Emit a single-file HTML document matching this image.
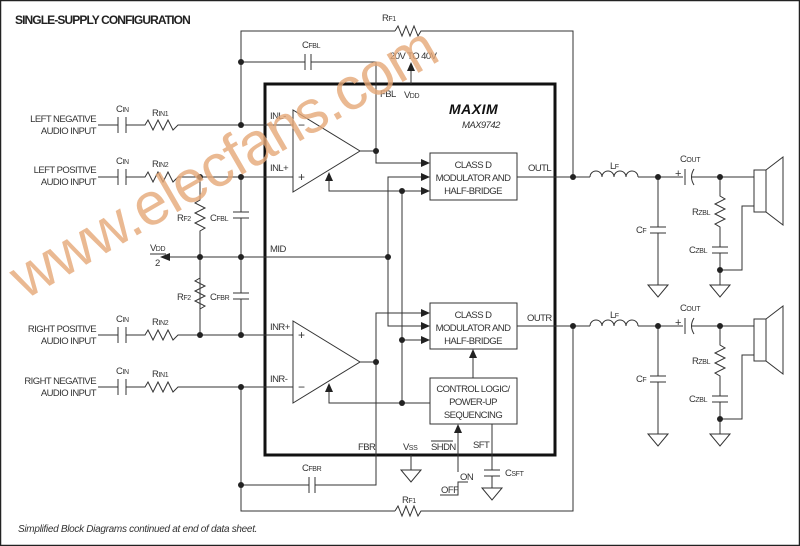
<!DOCTYPE html>
<html><head><meta charset="utf-8"><style>
html,body{margin:0;padding:0;background:#fff}
svg{display:block}
text{font-family:"Liberation Sans Narrow","Liberation Sans",sans-serif;fill:#333;font-size:9.5px;letter-spacing:-0.55px}
.s{font-size:7px;letter-spacing:-0.3px}
</style></head><body>
<svg width="800" height="546" viewBox="0 0 800 546" xmlns="http://www.w3.org/2000/svg">
<rect x="0.5" y="0.5" width="799" height="545" fill="#fff" stroke="#222" stroke-width="1.5"/>
<text x="15" y="24" style="font-size:12px;font-weight:bold;fill:#222;letter-spacing:-0.9px">SINGLE-SUPPLY CONFIGURATION</text>
<text x="18" y="532" style="font-size:10px;font-style:italic;font-family:'Liberation Sans',sans-serif;letter-spacing:-0.3px">Simplified Block Diagrams continued at end of data sheet.</text>

<g fill="none" stroke="#333" stroke-width="1">
<rect x="265" y="84" width="290" height="371" stroke-width="3" stroke="#111"/>
<polyline points="241,125 241,31 395,31"/>
<polyline points="395,31 398,26 402,36 406,26 410,36 414,26 418,36 421,31 573,31 573,177"/>
<polyline points="241,62 305,62"/><line x1="305" y1="54" x2="305" y2="70"/><line x1="311" y1="54" x2="311" y2="70"/>
<polyline points="311,62 376,62 376,163 426,163"/>
<line x1="411" y1="84" x2="411" y2="66"/>
<line x1="98" y1="125" x2="118" y2="125"/><line x1="118" y1="117" x2="118" y2="133"/><line x1="126" y1="117" x2="126" y2="133"/>
<polyline points="126,125 145,125 148,120 153,130 158,120 163,130 168,120 173,130 178,125 293,125"/>
<line x1="98" y1="177" x2="118" y2="177"/><line x1="118" y1="169" x2="118" y2="185"/><line x1="126" y1="169" x2="126" y2="185"/>
<polyline points="126,177 145,177 148,172 153,182 158,172 163,182 168,172 173,182 178,177 293,177"/>
<line x1="98" y1="335" x2="118" y2="335"/><line x1="118" y1="327" x2="118" y2="343"/><line x1="126" y1="327" x2="126" y2="343"/>
<polyline points="126,335 145,335 148,330 153,340 158,330 163,340 168,330 173,340 178,335 293,335"/>
<line x1="98" y1="387" x2="118" y2="387"/><line x1="118" y1="379" x2="118" y2="395"/><line x1="126" y1="379" x2="126" y2="395"/>
<polyline points="126,387 145,387 148,382 153,392 158,382 163,392 168,382 173,392 178,387 293,387"/>
<polyline points="200,177 200,200 195,203 205,208 195,213 205,218 195,223 205,228 200,231 200,335"/>
<polyline points="200,257 200,278 195,281 205,286 195,291 205,296 195,301 205,306 200,309"/>
<polyline points="241,177 241,212"/><line x1="233" y1="212" x2="249" y2="212"/><line x1="233" y1="218" x2="249" y2="218"/><polyline points="241,218 241,293"/>
<line x1="233" y1="293" x2="249" y2="293"/><line x1="233" y1="299" x2="249" y2="299"/><polyline points="241,299 241,335"/>
<polyline points="168,257 388,257"/>
<polyline points="241,387 241,511 395,511"/>
<polyline points="395,511 398,506 402,516 406,506 410,516 414,506 418,516 421,511 573,511 573,326"/>
<polyline points="241,485 309,485"/><line x1="309" y1="477" x2="309" y2="493"/><line x1="315" y1="477" x2="315" y2="493"/>
<polyline points="315,485 376,485 376,313 426,313"/>
<polygon points="293,110 293,192 360,151"/>
<polygon points="293,321 293,403 360,362"/>
<polyline points="360,151 376,151"/>
<polyline points="360,362 376,362"/>
<polyline points="426,177 388,177 388,326 426,326"/>
<polyline points="426,191 329,191 329,176"/>
<polyline points="426,340 402,340"/>
<polyline points="402,191 402,403 430,403"/>
<polyline points="402,403 329,403 329,388"/>
<rect x="430" y="153" width="87" height="47"/>
<rect x="430" y="303" width="87" height="46"/>
<rect x="430" y="378" width="87" height="46"/>
<line x1="473" y1="378" x2="473" y2="355"/>
<line x1="458" y1="472" x2="458" y2="430"/>
<line x1="492" y1="424" x2="492" y2="470"/>
<line x1="484" y1="470" x2="500" y2="470"/><line x1="484" y1="476" x2="500" y2="476"/><line x1="492" y1="476" x2="492" y2="488"/>
<polygon points="482,488 502,488 492,500"/>
<line x1="411" y1="455" x2="411" y2="470"/>
<polygon points="401,470 421,470 411,482"/>
<polyline points="468,482 458,482 458,495 440,495"/>
<g id="outL">
<polyline points="517,177 590,177"/>
<path d="M590,177 a6,6 0 0 1 12,0 a6,6 0 0 1 12,0 a6,6 0 0 1 12,0 a6,6 0 0 1 12,0"/>
<polyline points="638,177 683,177"/>
<line x1="685" y1="169" x2="685" y2="185"/><path d="M694,169 q-5,8 0,16"/>
<polyline points="691,177 754,177"/>
<polyline points="658,177 658,227"/><line x1="650" y1="227" x2="666" y2="227"/><line x1="650" y1="233" x2="666" y2="233"/><polyline points="658,233 658,285"/>
<polygon points="648,285 668,285 658,297"/>
<polyline points="720,177 720,196 725,199 715,204 725,209 715,214 725,219 715,224 720,227 720,247"/>
<line x1="712" y1="247" x2="728" y2="247"/><line x1="712" y1="253" x2="728" y2="253"/>
<polyline points="720,253 720,285"/><polygon points="710,285 730,285 720,297"/>
<polyline points="720,270 742,270 742,206 754,206"/>
<rect x="754" y="170" width="12" height="42"/>
<polygon points="766,170 783,157 783,225 766,212"/>
</g>
<use href="#outL" transform="translate(0,149)"/>
</g>
<g fill="#222">
<polygon points="430,163 421,159 421,167"/><polygon points="430,177 421,173 421,181"/><polygon points="430,191 421,187 421,195"/>
<polygon points="430,313 421,309 421,317"/><polygon points="430,326 421,322 421,330"/><polygon points="430,340 421,336 421,344"/>
<polygon points="329,172 325,181 333,181"/><polygon points="329,383 325,392 333,392"/>
<polygon points="473,349 469,358 477,358"/><polygon points="458,424 454,433 462,433"/>
<polygon points="411,62 407,71 415,71"/>
<polygon points="160,257 170,253 170,261"/>
<circle cx="241" cy="62" r="3"/><circle cx="241" cy="125" r="3"/><circle cx="200" cy="177" r="3"/><circle cx="241" cy="177" r="3"/>
<circle cx="200" cy="257" r="3"/><circle cx="241" cy="257" r="3"/><circle cx="200" cy="335" r="3"/><circle cx="241" cy="335" r="3"/>
<circle cx="241" cy="387" r="3"/><circle cx="241" cy="485" r="3"/><circle cx="376" cy="151" r="3"/><circle cx="376" cy="362" r="3"/>
<circle cx="388" cy="257" r="3"/><circle cx="402" cy="191" r="3"/><circle cx="402" cy="340" r="3"/><circle cx="402" cy="403" r="3"/>
<circle cx="573" cy="177" r="3"/><circle cx="658" cy="177" r="3"/><circle cx="720" cy="177" r="3"/><circle cx="720" cy="270" r="3"/>
<circle cx="573" cy="326" r="3"/><circle cx="658" cy="326" r="3"/><circle cx="720" cy="326" r="3"/><circle cx="720" cy="419" r="3"/>
</g>
<text x="96" y="122" text-anchor="end">LEFT NEGATIVE</text><text x="96" y="134" text-anchor="end">AUDIO INPUT</text>
<text x="96" y="173" text-anchor="end">LEFT POSITIVE</text><text x="96" y="185" text-anchor="end">AUDIO INPUT</text>
<text x="96" y="332" text-anchor="end">RIGHT POSITIVE</text><text x="96" y="344" text-anchor="end">AUDIO INPUT</text>
<text x="96" y="384" text-anchor="end">RIGHT NEGATIVE</text><text x="96" y="396" text-anchor="end">AUDIO INPUT</text>
<text x="116" y="112">C<tspan class="s">IN</tspan></text><text x="152" y="116">R<tspan class="s">IN1</tspan></text>
<text x="116" y="164">C<tspan class="s">IN</tspan></text><text x="152" y="167">R<tspan class="s">IN2</tspan></text>
<text x="116" y="322">C<tspan class="s">IN</tspan></text><text x="152" y="325">R<tspan class="s">IN2</tspan></text>
<text x="116" y="374">C<tspan class="s">IN</tspan></text><text x="152" y="377">R<tspan class="s">IN1</tspan></text>
<text x="177" y="221">R<tspan class="s">F2</tspan></text><text x="210" y="221">C<tspan class="s">FBL</tspan></text>
<text x="177" y="300">R<tspan class="s">F2</tspan></text><text x="210" y="300">C<tspan class="s">FBR</tspan></text>
<text x="150" y="251">V<tspan class="s">DD</tspan></text><line x1="150" y1="254" x2="166" y2="254" stroke="#333"/><text x="155" y="266">2</text>
<text x="302" y="48">C<tspan class="s">FBL</tspan></text><text x="382" y="21">R<tspan class="s">F1</tspan></text>
<text x="390" y="59">20V TO 40V</text>
<text x="380" y="97">FBL</text><text x="404" y="98">V<tspan class="s">DD</tspan></text>
<text x="270" y="119">INL-</text><text x="270" y="171">INL+</text>
<text x="270" y="252">MID</text><text x="270" y="330">INR+</text><text x="270" y="382">INR-</text>
<text x="298" y="129" style="font-size:12px">−</text><text x="298" y="181" style="font-size:12px">+</text>
<text x="298" y="339" style="font-size:12px">+</text><text x="298" y="391" style="font-size:12px">−</text>
<text x="449" y="114" style="font-size:14px;font-weight:bold;font-style:italic;fill:#111;letter-spacing:0.5px">MAXIM</text>
<text x="462" y="128" style="font-style:italic">MAX9742</text>
<text x="473" y="168" text-anchor="middle">CLASS D</text><text x="473" y="181" text-anchor="middle">MODULATOR AND</text><text x="473" y="194" text-anchor="middle">HALF-BRIDGE</text>
<text x="473" y="318" text-anchor="middle">CLASS D</text><text x="473" y="331" text-anchor="middle">MODULATOR AND</text><text x="473" y="344" text-anchor="middle">HALF-BRIDGE</text>
<text x="473" y="392" text-anchor="middle">CONTROL LOGIC/</text><text x="473" y="405" text-anchor="middle">POWER-UP</text><text x="473" y="418" text-anchor="middle">SEQUENCING</text>
<text x="528" y="171">OUTL</text><text x="527" y="321">OUTR</text>
<text x="358" y="450">FBR</text><text x="403" y="450">V<tspan class="s">SS</tspan></text>
<text x="431" y="450">SHDN</text><line x1="431" y1="441" x2="453" y2="441" stroke="#333"/>
<text x="473" y="448">SFT</text><text x="505" y="476">C<tspan class="s">SFT</tspan></text>
<text x="460" y="480">ON</text><text x="441" y="493">OFF</text>
<text x="302" y="471">C<tspan class="s">FBR</tspan></text><text x="402" y="503">R<tspan class="s">F1</tspan></text>
<g id="lblL">
<text x="610" y="169">L<tspan class="s">F</tspan></text><text x="680" y="162">C<tspan class="s">OUT</tspan></text>
<text x="675" y="177" style="font-size:11px">+</text>
<text x="636" y="233">C<tspan class="s">F</tspan></text><text x="692" y="215">R<tspan class="s">ZBL</tspan></text><text x="689" y="253">C<tspan class="s">ZBL</tspan></text>
</g>
<use href="#lblL" transform="translate(0,149)"/>
<text x="25" y="300" transform="rotate(-30 25 300)" style="font-family:'Liberation Sans',sans-serif;font-size:60px;fill:#e6a878;opacity:0.8;letter-spacing:-1px">www.elecfans.com</text>
</svg>
</body></html>
